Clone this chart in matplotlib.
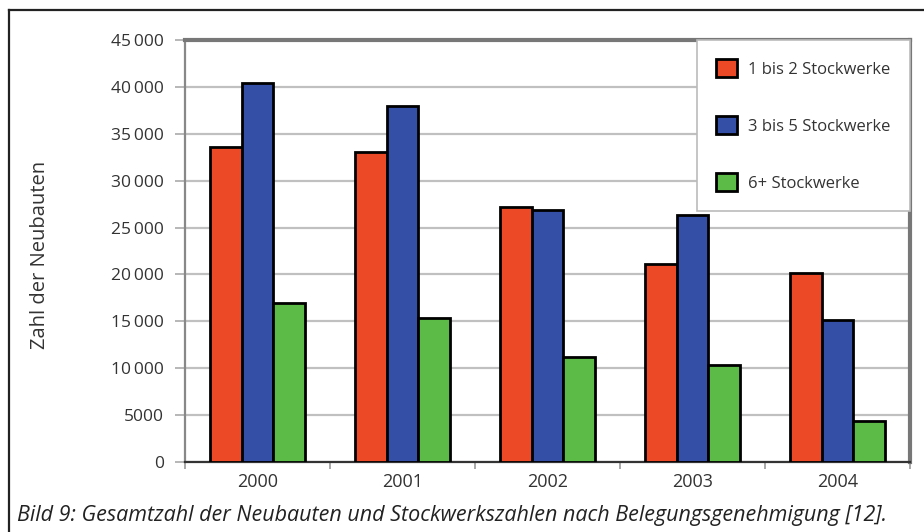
import matplotlib
matplotlib.use("Agg")
import matplotlib.pyplot as plt
import numpy as np
from matplotlib.patches import Patch

plt.rcParams['font.family'] = ['Open Sans', 'DejaVu Sans']

years = ["2000", "2001", "2002", "2003", "2004"]
series_names = ["1 bis 2 Stockwerke", "3 bis 5 Stockwerke", "6+ Stockwerke"]
floors_1_2 = [33600, 33100, 27200, 21100, 20200]
floors_3_5 = [40400, 38000, 26900, 26300, 15100]
floors_6_plus = [17000, 15400, 11200, 10300, 4400]
y_ticks = [0, 5000, 10000, 15000, 20000, 25000, 30000, 35000, 40000, 45000]
y_tick_labels = ["0", "5000", "10\u2009000", "15\u2009000", "20\u2009000", "25\u2009000",
                 "30\u2009000", "35\u2009000", "40\u2009000", "45\u2009000"]
colors = ["#EC4A26", "#3350A6", "#5CBA46"]

W, H = 924, 532
fig = plt.figure(figsize=(W / 100, H / 100), dpi=100)
fig.patch.set_facecolor("white")

# outer frame: left and top rules
fig.add_artist(plt.Line2D([9 / W, 9 / W], [0, 1 - 10 / H], color="#222222", lw=1.6,
                          transform=fig.transFigure))
fig.add_artist(plt.Line2D([9 / W, 1], [1 - 10 / H, 1 - 10 / H], color="#222222", lw=1.6,
                          transform=fig.transFigure))

ax = fig.add_axes([185 / W, (H - 462) / H, 725 / W, 422 / H])
x = np.arange(len(years))
bw = 0.22
for i, (vals, name) in enumerate(zip([floors_1_2, floors_3_5, floors_6_plus], series_names)):
    ax.bar(x + (i - 1) * bw, vals, width=bw, color=colors[i], edgecolor="black",
           linewidth=2, label=name, zorder=3)

ax.set_xlim(-0.5, len(years) - 0.5)
ax.set_ylim(0, 45000)
ax.set_yticks(y_ticks)
ax.set_yticklabels(y_tick_labels, fontsize=12.5, color="#333333")
ax.set_xticks(x)
ax.set_xticklabels(years, fontsize=13, color="#333333")
ax.set_xticks(np.arange(len(years) + 1) - 0.5, minor=True)
ax.tick_params(axis="x", which="major", length=0, pad=8)
ax.tick_params(axis="x", which="minor", length=5, color="#999999", width=1.2)
ax.tick_params(axis="y", length=7, color="#AAAAAA", width=1.2, pad=8)

ax.grid(axis="y", color="#C0C0C0", linewidth=1.6, zorder=0)
for s in ["top", "right"]:
    ax.spines[s].set_color("#777777")
    ax.spines[s].set_linewidth(3)
ax.spines["left"].set_color("#888888")
ax.spines["left"].set_linewidth(1.6)
ax.spines["bottom"].set_color("#333333")
ax.spines["bottom"].set_linewidth(1.6)

ax.set_ylabel("Zahl der Neubauten", fontsize=14.5, color="#333333")
ax.yaxis.set_label_coords(-0.186, 0.49)

handles = [Patch(facecolor=c, edgecolor="black", linewidth=2) for c in colors]
leg = ax.legend(handles, series_names, loc="upper right", fontsize=12,
                frameon=True, fancybox=False, borderaxespad=0, borderpad=1.15,
                labelspacing=2.32, handlelength=1.25, handleheight=1.25,
                handletextpad=0.7)
leg.get_frame().set_edgecolor("#BBBBBB")
leg.get_frame().set_linewidth(1.2)
leg.get_frame().set_facecolor("white")
leg.get_frame().set_alpha(1)
leg.set_zorder(5)
for t in leg.get_texts():
    t.set_color("#333333")

fig.text(17 / W, (H - 521) / H,
         "Bild 9: Gesamtzahl der Neubauten und Stockwerkszahlen nach Belegungsgenehmigung [12].",
         fontsize=15.5, style="italic", color="#222222", ha="left", va="baseline")

fig.savefig("out.png", dpi=100, facecolor="white")
